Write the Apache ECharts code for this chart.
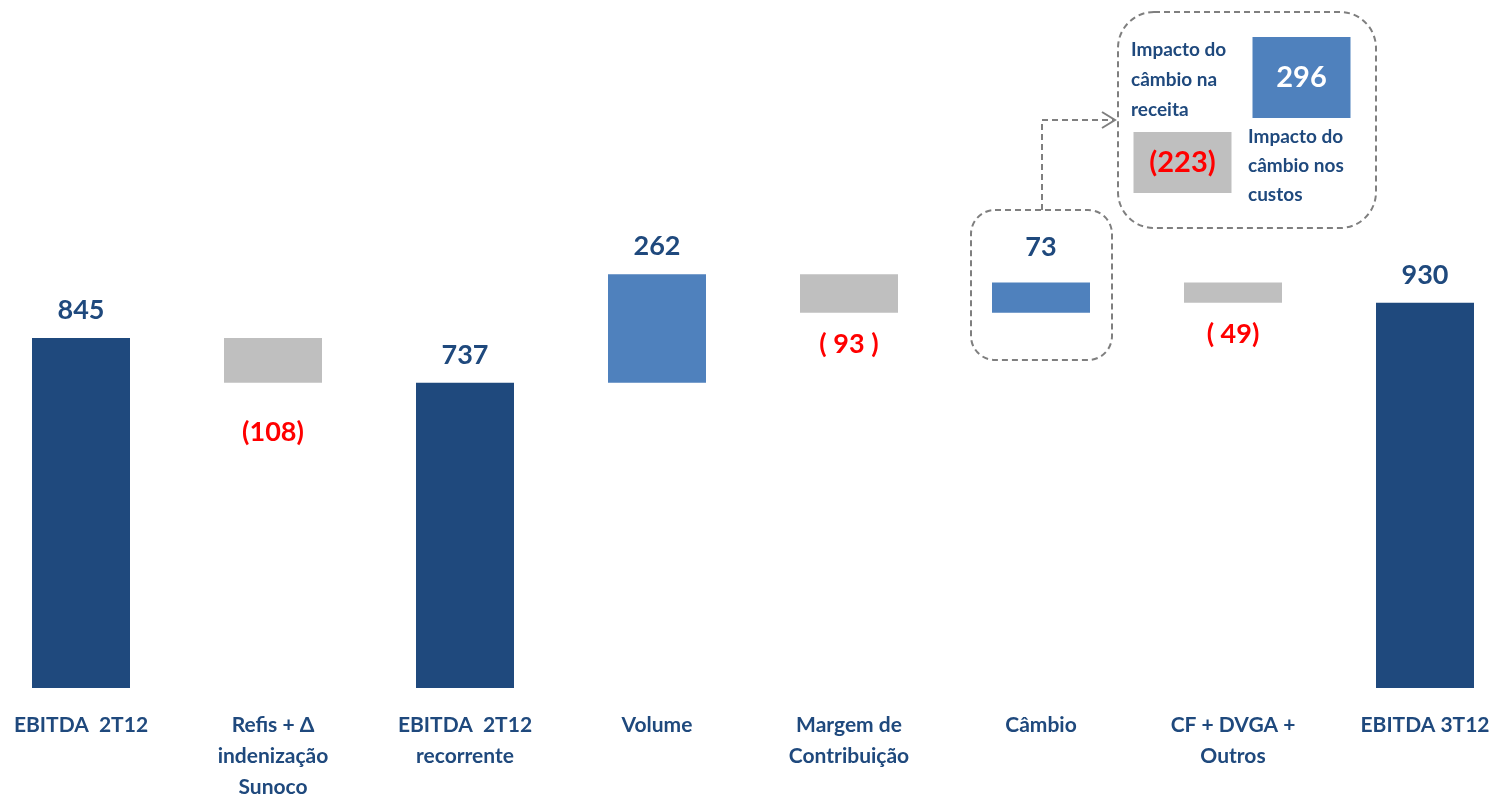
<!DOCTYPE html>
<html>
<head>
<meta charset="utf-8">
<script src="https://cdn.jsdelivr.net/npm/echarts@6/dist/echarts.min.js"></script>
<style>
  html, body { margin: 0; padding: 0; background: #fff; }
  #chart { width: 1499px; height: 797px; }
</style>
</head>
<body>
<div id="chart"></div>
<script>
// categorias e valores da ponte de EBITDA
var categories = ['EBITDA  2T12', 'Refis + Δ\nindenização\nSunoco', 'EBITDA  2T12\nrecorrente', 'Volume',
                  'Margem de\nContribuição', 'Câmbio', 'CF + DVGA +\nOutros', 'EBITDA 3T12'];
var values = [845, -108, 737, 262, -93, 73, -49, 930];
var isTotal = [true, false, true, false, false, false, false, true];
var valueLabels = ['845', '(108)', '737', '262', '( 93 )', '73', '( 49)', '930'];

// detalhe do câmbio
var fxCategories = ['custos', 'receita'];
var fxValues = [-223, 296];
var fxLabels = ['(223)', '296'];

var darkBlue = '#1F497D', lightBlue = '#4F81BD', grey = '#BFBFBF', red = '#FF0000';
var font = 'Lato, "Open Sans", sans-serif';

// monta base invisivel + barra visivel
var base = [], bars = [];
var running = 0;
for (var i = 0; i < values.length; i++) {
  var v = values[i];
  var color;
  if (isTotal[i]) {
    running = v;
    base.push(0);
    color = darkBlue;
  } else if (v >= 0) {
    base.push(running);
    running += v;
    color = lightBlue;
  } else {
    running += v;
    base.push(running);
    color = grey;
  }
  var neg = v < 0;
  bars.push({
    value: Math.abs(v),
    itemStyle: { color: color },
    label: {
      show: true,
      position: neg ? 'bottom' : 'top',
      distance: neg ? (i === 1 ? 36 : 18) : (i === 5 ? 22 : 14),
      formatter: valueLabels[i],
      color: neg ? red : darkBlue,
      fontSize: 27, fontWeight: 'bold', fontFamily: font
    }
  });
}

var fxGap = 51; // espaço entre as duas barras do detalhe
var fxBase = [0, Math.abs(fxValues[0]) + fxGap];
var fxBars = fxValues.map(function (v, k) {
  return {
    value: Math.abs(v),
    itemStyle: { color: v < 0 ? grey : lightBlue },
    label: {
      show: true, position: 'inside', formatter: fxLabels[k],
      color: v < 0 ? red : '#fff', fontSize: 29, fontWeight: 'bold', fontFamily: font
    }
  };
});

var myChart = echarts.init(document.getElementById('chart'));
var dash = { stroke: '#7F7F7F', lineWidth: 2, lineDash: [6, 4], fill: null };
var option = {
  animation: false,
  grid: [
    { left: -15, width: 1536, top: 108, height: 580, outerBoundsMode: 'none', containLabel: false },
    { left: 1123, top: 37, width: 238, height: 156, outerBoundsMode: 'none', containLabel: false }
  ],
  xAxis: [
    {
      type: 'category', data: categories, gridIndex: 0,
      axisLine: { show: false }, axisTick: { show: false },
      axisLabel: {
        interval: 0, margin: 22, color: darkBlue, fontSize: 21, fontWeight: 'bold',
        fontFamily: font, lineHeight: 31
      }
    },
    { type: 'category', data: fxCategories, gridIndex: 1, show: false }
  ],
  yAxis: [
    { type: 'value', min: 0, max: 1400, gridIndex: 0, show: false },
    { type: 'value', min: 0, max: 570, gridIndex: 1, show: false }
  ],
  series: [
    { type: 'bar', stack: 'w', data: base, barWidth: 98, itemStyle: { color: 'transparent' },
      silent: true, xAxisIndex: 0, yAxisIndex: 0 },
    { type: 'bar', stack: 'w', data: bars, barWidth: 98, xAxisIndex: 0, yAxisIndex: 0 },
    { type: 'bar', stack: 'fx', data: fxBase, barWidth: 98, itemStyle: { color: 'transparent' },
      silent: true, xAxisIndex: 1, yAxisIndex: 1 },
    { type: 'bar', stack: 'fx', data: fxBars, barWidth: 98, xAxisIndex: 1, yAxisIndex: 1 }
  ],
  graphic: [
    { type: 'rect', shape: { x: 971, y: 210, width: 141, height: 150, r: 24 }, style: dash, z: 10 },
    { type: 'rect', shape: { x: 1118, y: 12, width: 258, height: 216, r: 36 }, style: dash, z: 10 },
    { type: 'polyline', shape: { points: [[1042, 210], [1042, 120], [1114, 120]] }, style: dash, z: 10 },
    { type: 'polyline', shape: { points: [[1102, 112], [1115, 120], [1102, 128]] },
      style: { stroke: '#7F7F7F', lineWidth: 2, fill: null }, z: 10 },
    { type: 'text', left: 1131, top: 35, z: 10,
      style: { text: 'Impacto do\ncâmbio na\nreceita', fill: darkBlue, font: 'bold 19px ' + font, lineHeight: 30 } },
    { type: 'text', left: 1248, top: 122, z: 10,
      style: { text: 'Impacto do\ncâmbio nos\ncustos', fill: darkBlue, font: 'bold 19px ' + font, lineHeight: 29 } }
  ]
};
myChart.setOption(option);
</script>
</body>
</html>
